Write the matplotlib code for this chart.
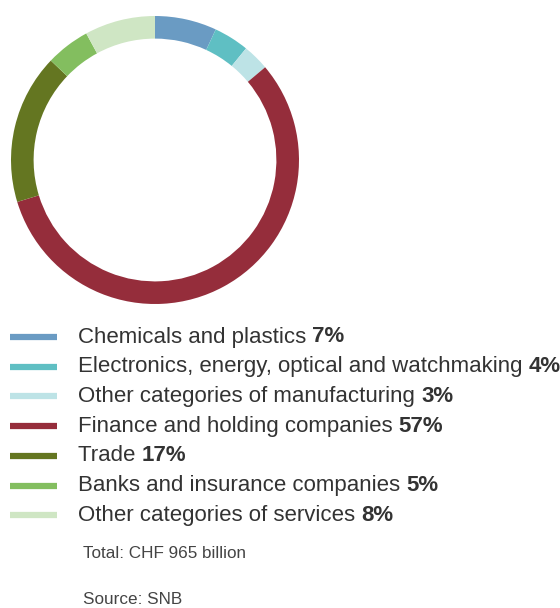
import matplotlib
matplotlib.use("Agg")
import matplotlib.pyplot as plt
from matplotlib.transforms import offset_copy

plt.rcParams["font.family"] = ["Liberation Sans", "DejaVu Sans"]

categories = [
    "Chemicals and plastics",
    "Electronics, energy, optical and watchmaking",
    "Other categories of manufacturing",
    "Finance and holding companies",
    "Trade",
    "Banks and insurance companies",
    "Other categories of services",
]
shares = [7, 4, 3, 57, 17, 5, 8]
colors = ["#6a9bc3", "#5fbfc3", "#bde3e6", "#952d3b", "#647621", "#83be5f", "#cfe6c4"]
total_note = "Total: CHF 965 billion"
source_note = "Source: SNB"

W, H = 560, 608
fig = plt.figure(figsize=(W / 100, H / 100), dpi=100)

# donut
ax = fig.add_axes([11 / W, (H - 304) / H, 288 / W, 288 / H])
ax.pie(shares, colors=colors, startangle=90, counterclock=False, radius=1,
       wedgeprops=dict(width=0.157, edgecolor="none"))
ax.set_aspect("equal")
ax.set_xlim(-1, 1)
ax.set_ylim(-1, 1)
ax.axis("off")

# legend + notes in pixel coordinates
lx = fig.add_axes([0, 0, 1, 1])
lx.set_xlim(0, W)
lx.set_ylim(H, 0)
lx.axis("off")

renderer = fig.canvas.get_renderer()
y0, dy = 337, 29.7
for i, (name, val, c) in enumerate(zip(categories, shares, colors)):
    y = y0 + i * dy
    lx.plot([10, 57], [y, y], color=c, lw=4.5, solid_capstyle="butt")
    t = lx.text(78, y, name + " ", fontsize=16, color="#333333", va="center")
    ext = t.get_window_extent(renderer)
    tr = offset_copy(lx.transData, fig=fig, x=ext.width, y=0, units="dots")
    lx.text(78, y, f"{val}%", fontsize=16, color="#333333", va="center",
            fontweight="bold", transform=tr)

lx.text(83, 553, total_note, fontsize=12.3, color="#444444", va="center")
lx.text(83, 600, source_note, fontsize=12.3, color="#444444", va="center")

fig.savefig("out.png", dpi=100)
